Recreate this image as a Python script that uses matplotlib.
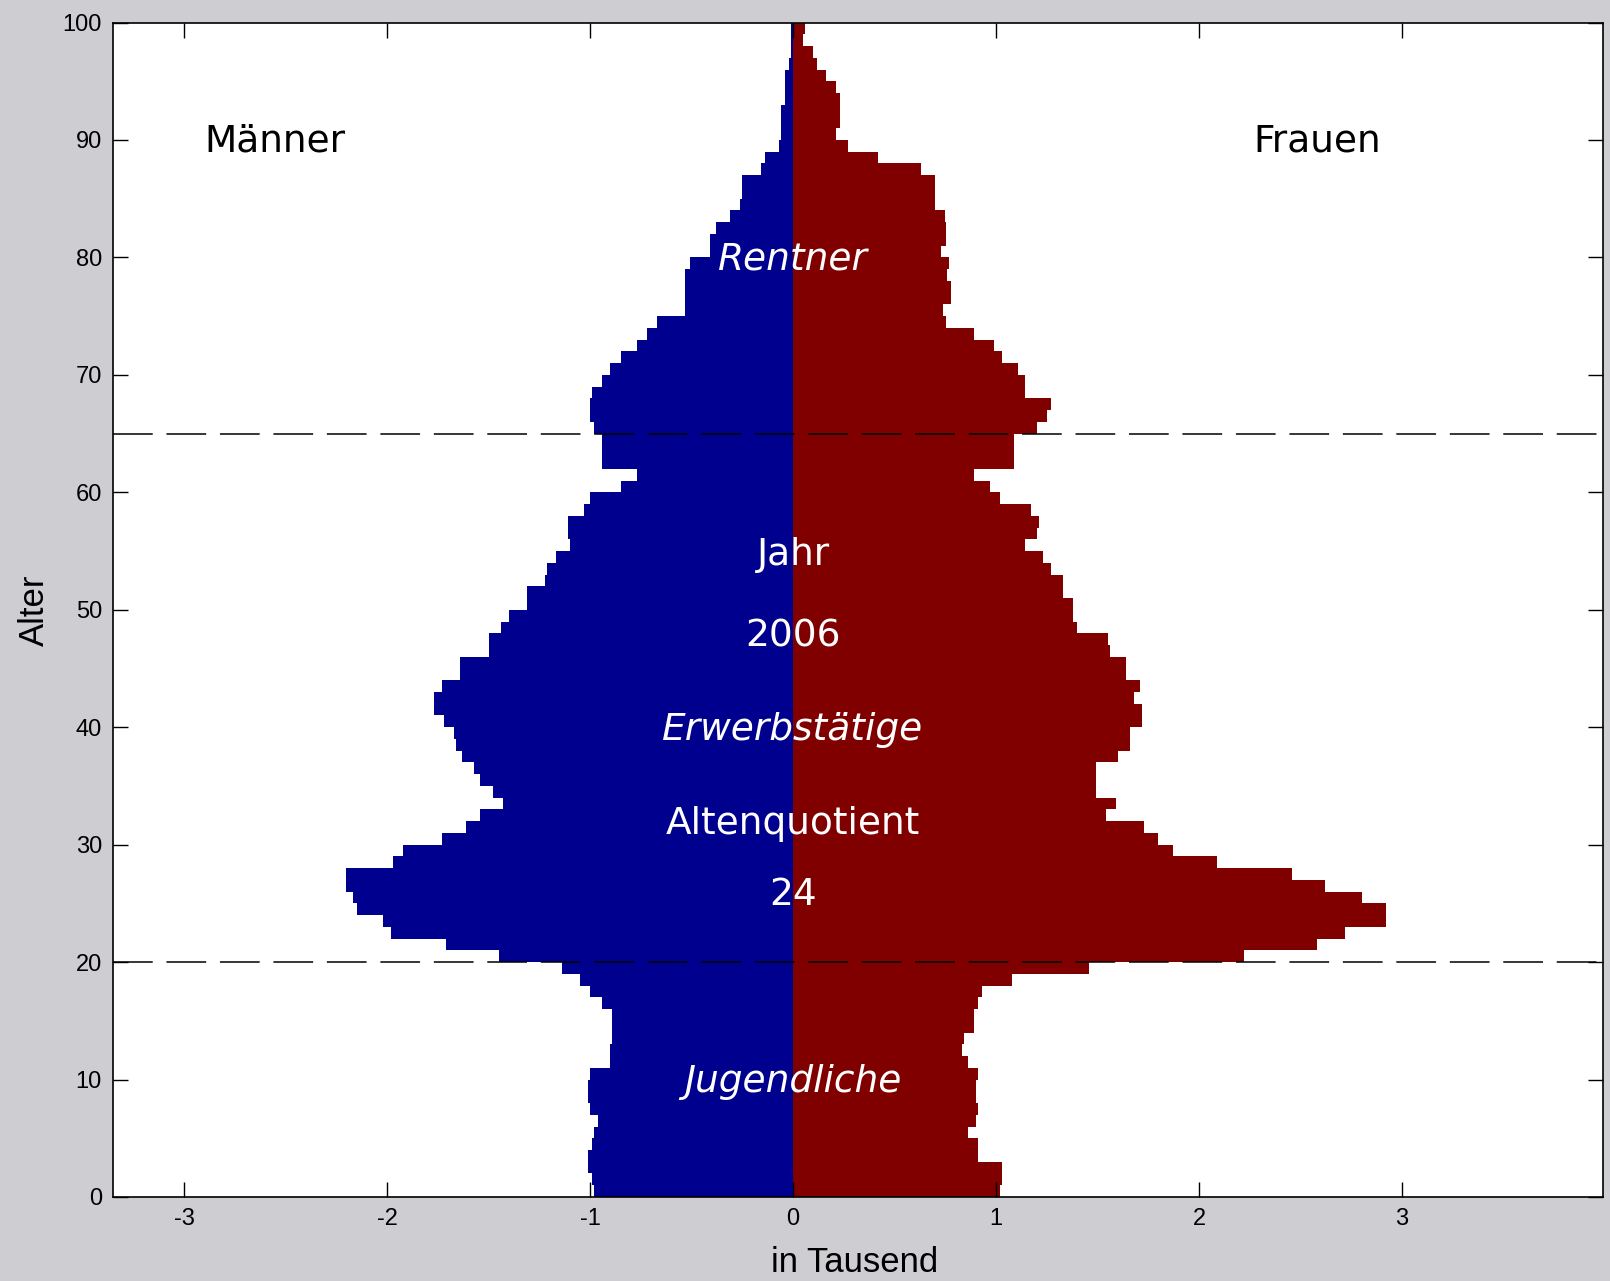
import numpy as np
import matplotlib
matplotlib.use("Agg")
import matplotlib.pyplot as plt

plt.rcParams['axes.unicode_minus'] = False

# Alter 0..99, Werte in Tausend
alter = np.arange(0, 100)
maenner = [-0.98, -0.99, -1.01, -1.01, -0.99, -0.98, -0.96, -1.00, -1.01, -1.01,
           -1.00, -0.90, -0.90, -0.89, -0.89, -0.89, -0.94, -1.00, -1.05, -1.14,
           -1.45, -1.71, -1.98, -2.02, -2.15, -2.17, -2.20, -2.20, -1.97, -1.92,
           -1.73, -1.61, -1.54, -1.43, -1.48, -1.54, -1.57, -1.63, -1.66, -1.67,
           -1.72, -1.77, -1.77, -1.73, -1.64, -1.64, -1.50, -1.50, -1.44, -1.40,
           -1.31, -1.31, -1.22, -1.21, -1.17, -1.10, -1.11, -1.11, -1.03, -1.00,
           -0.85, -0.77, -0.94, -0.94, -0.94, -0.98, -1.00, -1.00, -0.99, -0.94,
           -0.90, -0.85, -0.77, -0.72, -0.67, -0.53, -0.53, -0.53, -0.53, -0.51,
           -0.41, -0.41, -0.38, -0.31, -0.26, -0.25, -0.25, -0.16, -0.14, -0.07,
           -0.06, -0.06, -0.06, -0.04, -0.04, -0.04, -0.02, -0.01, -0.01, -0.01]
frauen = [1.02, 1.03, 1.03, 0.91, 0.91, 0.86, 0.90, 0.91, 0.90, 0.90,
          0.91, 0.86, 0.83, 0.84, 0.89, 0.89, 0.91, 0.93, 1.08, 1.46,
          2.22, 2.58, 2.72, 2.92, 2.92, 2.80, 2.62, 2.46, 2.09, 1.87,
          1.80, 1.73, 1.54, 1.59, 1.49, 1.49, 1.49, 1.60, 1.66, 1.66,
          1.72, 1.72, 1.68, 1.71, 1.64, 1.64, 1.56, 1.55, 1.40, 1.38,
          1.38, 1.33, 1.33, 1.27, 1.23, 1.14, 1.20, 1.21, 1.17, 1.02,
          0.97, 0.89, 1.09, 1.09, 1.09, 1.20, 1.25, 1.27, 1.14, 1.14,
          1.11, 1.03, 0.99, 0.89, 0.755, 0.74, 0.78, 0.78, 0.76, 0.77,
          0.73, 0.755, 0.755, 0.75, 0.70, 0.70, 0.70, 0.63, 0.42, 0.27,
          0.21, 0.23, 0.23, 0.23, 0.21, 0.16, 0.12, 0.10, 0.05, 0.06]

grenzen = [20, 65]
xticks = [-3, -2, -1, 0, 1, 2, 3]
yticks = list(range(0, 101, 10))

fig = plt.figure(figsize=(16.1, 12.81), dpi=100, facecolor='#cdcdd2')
ax = fig.add_axes([0.0702, 0.0656, 0.9255, 0.9168])
ax.set_facecolor('white')

ax.barh(alter, maenner, height=1.0, align='edge', color='#00008F', linewidth=0)
ax.barh(alter, frauen, height=1.0, align='edge', color='#800000', linewidth=0)

for g in grenzen:
    ax.axhline(g, color='black', lw=1.1, linestyle=(0, (26, 9)), zorder=5)

ax.set_xlim(-3.35, 3.99)
ax.set_ylim(0, 100)
ax.set_xticks(xticks)
ax.set_yticks(yticks)
ax.tick_params(direction='in', length=11, width=1, top=True, right=True,
               labelsize=17, pad=8)
for lab in ax.get_xticklabels() + ax.get_yticklabels():
    lab.set_family('Liberation Sans')
for sp in ax.spines.values():
    sp.set_linewidth(1.2)

ax.set_xlabel('in Tausend', fontsize=25, family='Liberation Sans')
ax.set_ylabel('Alter', fontsize=25, family='Liberation Sans')
ax.xaxis.set_label_coords(0.498, -0.042)
ax.yaxis.set_label_coords(-0.042, 0.5)

# Beschriftungen
ax.text(-2.55, 89.9, 'Männer', fontsize=27, ha='center', va='center', color='black')
ax.text(2.58, 89.9, 'Frauen', fontsize=27, ha='center', va='center', color='black')
weiss = dict(fontsize=27, ha='center', va='center', color='white', zorder=6)
ax.text(0, 79.8, 'Rentner', style='italic', **weiss)
ax.text(0, 54.7, 'Jahr', **weiss)
ax.text(0, 47.7, '2006', **weiss)
ax.text(0, 39.8, 'Erwerbstätige', style='italic', **weiss)
ax.text(0, 31.8, 'Altenquotient', **weiss)
ax.text(0, 25.7, '24', **weiss)
ax.text(0, 9.8, 'Jugendliche', style='italic', **weiss)

fig.savefig('out.png', dpi=100, facecolor=fig.get_facecolor())
